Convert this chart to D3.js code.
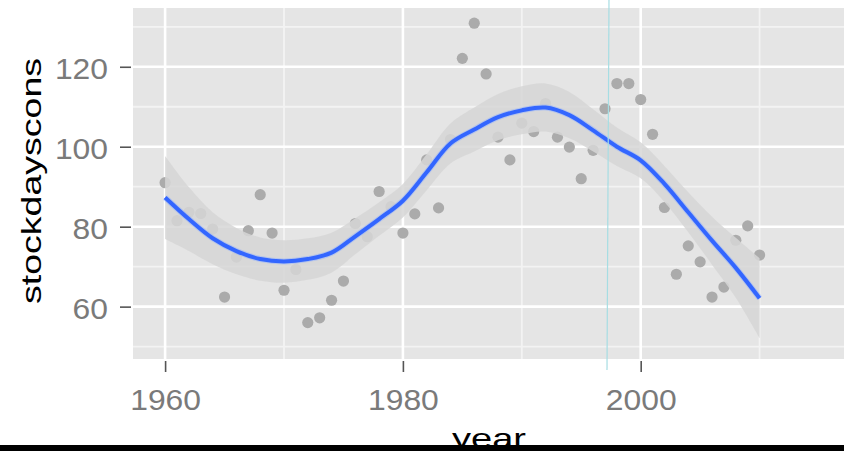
<!DOCTYPE html>
<html>
<head>
<meta charset="utf-8">
<script src="https://cdn.jsdelivr.net/npm/d3@7"></script>
<style>
    html, body { margin: 0; padding: 0; background: #ffffff; }
    svg { display: block; font-family: "Liberation Sans", Arial, sans-serif; }
</style>
</head>
<body>
<div id="chart"></div>
<script>
// stockdayscons by year - scatter with loess smooth (ggplot look)

// Observed points, one per year
const years = d3.range(1960, 2011);
const stockdayscons = [
    91, 81.5, 83.6, 83.3, 79.4, 62.4, 72.4, 79, 88, 78.4,
    64.1, 69.3, 56, 57.2, 61.6, 66.4, 80.8, 77.5, 88.8, 85,
    78.4, 83.2, 96.7, 84.7, 101.8, 122.1, 130.9, 118.2, 102.4, 96.7,
    105.9, 103.8, 110.8, 102.4, 99.9, 92, 99.1, 109.5, 115.8, 115.8,
    111.8, 103.1, 84.8, 68.1, 75.2, 71.2, 62.4, 64.9, 76.6, 80.2,
    72.9
];

// Smooth curve (fit and half-width of the band)
const smoothYears = [1960, 1962, 1964, 1966, 1968, 1970, 1972, 1974, 1976, 1978,
    1980, 1982, 1984, 1986, 1988, 1990, 1992, 1994, 1996, 1998,
    2000, 2002, 2004, 2006, 2008, 2010];
const smoothFit = [87.3, 81.9, 77.1, 73.9, 71.9, 71.3, 71.9, 73.5, 77.6, 81.9,
    86.5, 93.6, 100.8, 104.3, 107.4, 109.1, 109.8, 107.9, 104.1, 100,
    96.6, 90.7, 83.6, 76.5, 69.7, 62.1];
const smoothSe = [10.4, 8, 6.5, 5.8, 5.4, 5.3, 5.2, 5, 4.5, 4.2,
    4.2, 4.5, 5, 5.5, 5.8, 6, 6, 5.8, 5.3, 4.8,
    4.5, 4.5, 5, 6, 7.5, 10];

// Axis ticks
const xMajorTicks = [1960, 1980, 2000];
const xMinorTicks = [1970, 1990, 2010];
const yMajorTicks = [60, 80, 100, 120];
const yMinorTicks = [50, 70, 90, 110, 130];

const config = {
    colors: {
        panel: '#e5e5e5',
        gridMajor: '#ffffff',
        gridMinor: '#f3f3f3',
        point: '#ababab',
        ribbon: '#d6d6d6',
        smooth: '#3366ff',
        axisText: '#7a7a7a',
        tick: '#555555',
        cursor: '#a6dde3'
    },
    width: 844,
    height: 451
};

const panel = { left: 133, right: 844, top: 8, bottom: 359 };

const svg = d3.select('#chart').append('svg')
    .attr('width', config.width)
    .attr('height', config.height);

const x = d3.scaleLinear().domain([1957.3, 2017.1]).range([panel.left, panel.right]);
const y = d3.scaleLinear().domain([46.9, 134.7]).range([panel.bottom, panel.top]);

// Panel background
svg.append('rect')
    .attr('x', panel.left)
    .attr('y', panel.top)
    .attr('width', panel.right - panel.left)
    .attr('height', panel.bottom - panel.top)
    .attr('fill', config.colors.panel);

// Grid lines
const grid = svg.append('g');
function vLines(ticks, color, w) {
    grid.selectAll(null).data(ticks).enter().append('line')
        .attr('x1', d => x(d)).attr('x2', d => x(d))
        .attr('y1', panel.top).attr('y2', panel.bottom)
        .attr('stroke', color).attr('stroke-width', w);
}
function hLines(ticks, color, w) {
    grid.selectAll(null).data(ticks).enter().append('line')
        .attr('x1', panel.left).attr('x2', panel.right)
        .attr('y1', d => y(d)).attr('y2', d => y(d))
        .attr('stroke', color).attr('stroke-width', w);
}
hLines(yMinorTicks, config.colors.gridMinor, 1.8);
vLines(xMinorTicks, config.colors.gridMinor, 1.8);
hLines(yMajorTicks, config.colors.gridMajor, 2.6);
vLines(xMajorTicks, config.colors.gridMajor, 2.6);

// Points
svg.append('g').selectAll('circle')
    .data(years.map((yr, i) => ({ year: yr, value: stockdayscons[i] })))
    .enter().append('circle')
    .attr('cx', d => x(d.year))
    .attr('cy', d => y(d.value))
    .attr('r', 5.6)
    .attr('fill', config.colors.point);

// Confidence band and smooth line
const smooth = smoothYears.map((yr, i) => ({ year: yr, fit: smoothFit[i], se: smoothSe[i] }));

svg.append('path')
    .datum(smooth)
    .attr('d', d3.area()
        .x(d => x(d.year))
        .y0(d => y(d.fit - d.se))
        .y1(d => y(d.fit + d.se))
        .curve(d3.curveCatmullRom))
    .attr('fill', config.colors.ribbon)
    .attr('fill-opacity', 0.85);

const line = d3.line()
    .x(d => x(d.year))
    .y(d => y(d.fit))
    .curve(d3.curveCatmullRom);

svg.append('path')
    .datum(smooth)
    .attr('d', line)
    .attr('fill', 'none')
    .attr('stroke', '#8fb0ff')
    .attr('stroke-opacity', 0.5)
    .attr('stroke-width', 6);

svg.append('path')
    .datum(smooth)
    .attr('d', line)
    .attr('fill', 'none')
    .attr('stroke', config.colors.smooth)
    .attr('stroke-width', 4);

// Axes
const xAxis = svg.append('g')
    .attr('transform', `translate(0, ${panel.bottom + 2})`)
    .call(d3.axisBottom(x).tickValues(xMajorTicks).tickFormat(d3.format('d')).tickSize(11).tickPadding(17));

const yAxis = svg.append('g')
    .attr('transform', `translate(${panel.left - 2}, 0)`)
    .call(d3.axisLeft(y).tickValues(yMajorTicks).tickSize(11).tickPadding(12));

[xAxis, yAxis].forEach(ax => {
    ax.select('.domain').remove();
    ax.selectAll('.tick line').attr('stroke', config.colors.tick).attr('stroke-width', 1.6);
    ax.selectAll('.tick text')
        .attr('fill', config.colors.axisText)
        .style('font-size', '29px')
        .attr('textLength', d => String(d).length * 17.7)
        .attr('lengthAdjust', 'spacingAndGlyphs');
});
yAxis.selectAll('.tick text').attr('dy', '0.42em');

// Axis titles
svg.append('text')
    .attr('transform', `translate(41, ${(58 + 304) / 2}) rotate(-90)`)
    .attr('text-anchor', 'middle')
    .attr('textLength', 246)
    .attr('lengthAdjust', 'spacingAndGlyphs')
    .style('font-size', '28px')
    .attr('fill', '#000')
    .text('stockdayscons');

svg.append('text')
    .attr('x', 489)
    .attr('y', 448)
    .attr('text-anchor', 'middle')
    .attr('textLength', 74)
    .attr('lengthAdjust', 'spacingAndGlyphs')
    .style('font-size', '28px')
    .attr('fill', '#000')
    .text('year');

// Thin cursor line that sits over the screenshot
svg.append('line')
    .attr('x1', 609).attr('x2', 607)
    .attr('y1', 0).attr('y2', 370)
    .attr('stroke', config.colors.cursor)
    .attr('stroke-width', 1.2);

// Black strip at the bottom of the capture
svg.append('rect')
    .attr('x', 0).attr('y', 445)
    .attr('width', config.width).attr('height', 6)
    .attr('fill', '#000');
</script>
</body>
</html>
